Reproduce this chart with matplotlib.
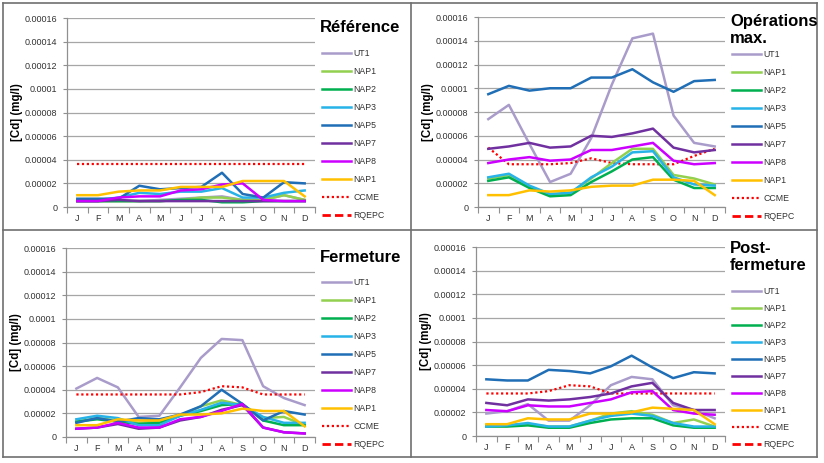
import numpy as np
import matplotlib
matplotlib.use("Agg")
import matplotlib.pyplot as plt
from matplotlib.lines import Line2D
from matplotlib.ticker import FixedLocator, FuncFormatter

plt.rcParams['font.family'] = ['Liberation Sans', 'DejaVu Sans']

mois = ['J', 'F', 'M', 'A', 'M', 'J', 'J', 'A', 'S', 'O', 'N', 'D']
series = ['UT1', 'NAP1', 'NAP2', 'NAP3', 'NAP5', 'NAP7', 'NAP8', 'NAP1', 'CCME', 'RQEPC']
couleurs = ['#A99CCB', '#92D050', '#00B050', '#27B2E8', '#1F6EB6', '#7030A0', '#CC00FF', '#FFC000',
            '#FF0000', '#FF0000']

# valeurs en 1e-5 mg/l
ref_ut1 = [0.5, 0.5, 0.5, 0.5, 0.6, 0.7, 0.8, 0.9, 0.6, 0.6, 1.0, 0.6]
ref_nap1 = [0.5, 0.5, 0.5, 0.5, 0.5, 0.6, 0.8, 0.8, 0.6, 0.6, 1.0, 0.6]
ref_nap2 = [0.5, 0.5, 0.5, 0.5, 0.5, 0.6, 0.6, 0.4, 0.4, 0.5, 0.5, 0.5]
ref_nap3 = [0.6, 0.6, 0.8, 1.2, 1.1, 1.3, 1.3, 1.6, 0.8, 0.8, 1.2, 1.4]
ref_nap5 = [0.7, 0.7, 0.7, 1.8, 1.5, 1.6, 1.7, 2.9, 1.1, 0.8, 2.1, 2.0]
ref_nap7 = [0.5, 0.5, 0.6, 0.5, 0.5, 0.5, 0.5, 0.5, 0.5, 0.5, 0.5, 0.5]
ref_nap8 = [0.5, 0.5, 0.8, 0.9, 0.9, 1.4, 1.5, 1.9, 2.0, 0.6, 0.5, 0.5]
ref_nap1b = [1.0, 1.0, 1.3, 1.4, 1.4, 1.7, 1.7, 1.7, 2.2, 2.2, 2.2, 0.9]
ref_ccme = [3.6, 3.6, 3.6, 3.6, 3.6, 3.6, 3.6, 3.6, 3.6, 3.6, 3.6, 3.6]

ope_ut1 = [7.4, 8.6, 5.3, 2.1, 2.8, 5.8, 10.3, 14.2, 14.6, 7.7, 5.4, 5.1]
ope_nap1 = [2.4, 2.7, 1.7, 1.0, 1.2, 2.4, 3.7, 4.9, 4.9, 2.7, 2.4, 1.9]
ope_nap2 = [2.2, 2.5, 1.6, 0.9, 1.0, 2.1, 3.0, 4.0, 4.2, 2.3, 1.6, 1.6]
ope_nap3 = [2.5, 2.8, 1.8, 1.1, 1.2, 2.5, 3.4, 4.6, 4.7, 2.5, 1.9, 1.8]
ope_nap5 = [9.5, 10.2, 9.8, 10.0, 10.0, 10.9, 10.9, 11.6, 10.5, 9.7, 10.6, 10.7]
ope_nap7 = [4.9, 5.1, 5.4, 5.0, 5.1, 6.0, 5.9, 6.2, 6.6, 5.0, 4.6, 4.8]
ope_nap8 = [3.7, 4.0, 4.2, 3.9, 4.0, 4.8, 4.8, 5.1, 5.4, 3.9, 3.6, 3.7]
ope_nap1b = [1.0, 1.0, 1.4, 1.3, 1.4, 1.7, 1.8, 1.8, 2.3, 2.3, 2.2, 1.0]
ope_ccme = [5.0, 3.6, 3.6, 3.6, 3.7, 4.1, 3.7, 3.6, 3.6, 3.6, 4.3, 4.9]

fer_ut1 = [4.1, 5.0, 4.2, 1.7, 1.8, 4.2, 6.7, 8.3, 8.2, 4.3, 3.3, 2.7]
fer_nap1 = [1.3, 1.6, 1.4, 1.2, 1.3, 1.8, 2.6, 3.1, 2.7, 1.6, 1.7, 1.0]
fer_nap2 = [1.3, 1.5, 1.3, 1.1, 1.2, 1.8, 2.2, 2.7, 2.8, 1.4, 1.0, 1.0]
fer_nap3 = [1.5, 1.8, 1.6, 1.0, 1.0, 1.8, 2.3, 2.9, 2.7, 1.7, 1.2, 1.2]
fer_nap5 = [1.2, 1.6, 1.3, 1.6, 1.5, 1.9, 2.6, 4.0, 2.8, 1.4, 2.2, 1.9]
fer_nap7 = [0.7, 0.8, 1.1, 0.7, 0.8, 1.4, 1.7, 2.3, 2.7, 0.8, 0.4, 0.3]
fer_nap8 = [0.7, 0.8, 1.2, 0.8, 0.8, 1.5, 1.7, 2.2, 2.8, 0.8, 0.4, 0.3]
fer_nap1b = [1.0, 1.0, 1.5, 1.4, 1.4, 1.9, 1.9, 2.0, 2.4, 2.2, 2.2, 0.9]
fer_ccme = [3.6, 3.6, 3.6, 3.6, 3.6, 3.6, 3.8, 4.3, 4.2, 3.6, 3.6, 3.6]

post_ut1 = [1.9, 2.1, 2.7, 1.3, 1.3, 2.6, 4.3, 5.0, 4.8, 2.6, 2.2, 1.5]
post_nap1 = [0.9, 0.9, 1.0, 0.8, 0.8, 1.3, 1.9, 2.1, 1.8, 1.1, 1.4, 0.8]
post_nap2 = [0.8, 0.8, 0.9, 0.7, 0.7, 1.1, 1.4, 1.5, 1.5, 0.9, 0.7, 0.7]
post_nap3 = [0.8, 0.9, 1.1, 0.8, 0.8, 1.3, 1.7, 1.9, 1.7, 1.1, 0.8, 0.8]
post_nap5 = [4.8, 4.7, 4.7, 5.6, 5.5, 5.3, 5.9, 6.8, 5.8, 4.9, 5.4, 5.3]
post_nap7 = [2.8, 2.6, 3.1, 3.0, 3.1, 3.3, 3.6, 4.2, 4.5, 2.8, 2.2, 2.2]
post_nap8 = [2.2, 2.1, 2.6, 2.5, 2.5, 2.8, 3.1, 3.7, 3.8, 2.2, 1.9, 1.8]
post_nap1b = [1.0, 1.0, 1.5, 1.4, 1.4, 1.9, 1.9, 2.0, 2.4, 2.3, 2.2, 1.0]
post_ccme = [3.6, 3.6, 3.6, 3.8, 4.3, 4.2, 3.6, 3.6, 3.6, 3.6, 3.6, 3.6]

# RQEPC hors de l'echelle affichee (seulement dans la legende)
rqepc = [50.0] * 12

panneaux = [
    ('Référence', [ref_ut1, ref_nap1, ref_nap2, ref_nap3, ref_nap5, ref_nap7, ref_nap8, ref_nap1b, ref_ccme, rqepc]),
    ('Opérations\nmax.', [ope_ut1, ope_nap1, ope_nap2, ope_nap3, ope_nap5, ope_nap7, ope_nap8, ope_nap1b, ope_ccme, rqepc]),
    ('Fermeture', [fer_ut1, fer_nap1, fer_nap2, fer_nap3, fer_nap5, fer_nap7, fer_nap8, fer_nap1b, fer_ccme, rqepc]),
    ('Post-\nfermeture', [post_ut1, post_nap1, post_nap2, post_nap3, post_nap5, post_nap7, post_nap8, post_nap1b, post_ccme, rqepc]),
]

W, H = 824, 463
fig = plt.figure(figsize=(W / 100, H / 100), dpi=100)

# (gauche, haut, droite, bas) en pixels pour chaque zone de trace
boites = [(67, 18, 315, 207), (478, 17, 725, 207), (66, 248, 315, 437), (476, 247, 725, 436)]
titres_y = [28, 30, 258, 257]
legende_y = [49, 50, 278, 287]
espacement = [1.03, 1.03, 1.03, 0.92]

yticks = np.arange(0, 0.00016 + 1e-9, 0.00002)
x = np.arange(12)

for (titre, vals), (l, t, r, b), ty, ly, esp in zip(panneaux, boites, titres_y, legende_y, espacement):
    ax = fig.add_axes([l / W, 1 - b / H, (r - l) / W, (b - t) / H])
    handles = []
    for i, (nom, v) in enumerate(zip(series, vals)):
        y = np.array(v) * 1e-5
        if nom == 'CCME':
            ls, lw = (0, (1, 1.2)), 1.6
        elif nom == 'RQEPC':
            ls, lw = (0, (3, 1.5)), 2.0
        else:
            ls, lw = '-', 1.8
        ln, = ax.plot(x, y, color=couleurs[i], lw=lw, linestyle=ls, zorder=3 + (i if i < 8 else 0))
        handles.append(ln)
    ax.set_xlim(-0.5, 11.5)
    ax.set_ylim(0, 0.00016)
    ax.set_yticks(yticks)
    ax.yaxis.set_major_formatter(FuncFormatter(
        lambda v, p: '0' if abs(v) < 1e-12 else np.format_float_positional(round(v, 6), trim='-')))
    ax.set_xticks(x)
    ax.set_xticklabels(mois)
    ax.xaxis.set_minor_locator(FixedLocator(np.arange(-0.5, 12, 1)))
    ax.tick_params(axis='x', which='major', length=0, labelsize=6.5, pad=5, colors='#333333')
    ax.tick_params(axis='x', which='minor', length=4, color='#909090', width=0.8)
    ax.tick_params(axis='y', length=3, color='#909090', width=0.8, labelsize=6.5, colors='#333333', pad=4)
    ax.grid(axis='y', color='#A6A6A6', lw=0.9, zorder=0)
    for s in ['top', 'right']:
        ax.spines[s].set_visible(False)
    for s in ['left', 'bottom']:
        ax.spines[s].set_color('#909090')
        ax.spines[s].set_linewidth(0.9)
    ax.set_ylabel('[Cd] (mg/l)', fontsize=8.3, fontweight='bold', labelpad=1)
    ax.set_axisbelow(True)

    fig.text((r + 5) / W, 1 - ty / H, titre, fontsize=12, fontweight='bold', va='center', ha='left',
             linespacing=1.2)
    leg = ax.legend(handles, series, loc='upper left', bbox_to_anchor=((r + 7) / W, 1 - ly / H),
                    bbox_transform=fig.transFigure, frameon=False, fontsize=6.3, handlelength=3.3,
                    handletextpad=0.3, labelspacing=esp, borderaxespad=0, borderpad=0)
    for txt in leg.get_texts():
        txt.set_color('#333333')

# cadres du tableau
cadre = dict(color='#707070', lw=1.2, transform=fig.transFigure)
xs = [3 / W, 411 / W, 817 / W]
ys = [1 - 3 / H, 1 - 230 / H, 1 - 457 / H]
for xx in xs:
    fig.add_artist(Line2D([xx, xx], [ys[0], ys[2]], **cadre))
for yy in ys:
    fig.add_artist(Line2D([xs[0], xs[2]], [yy, yy], **cadre))

fig.savefig('out.png', dpi=100)
